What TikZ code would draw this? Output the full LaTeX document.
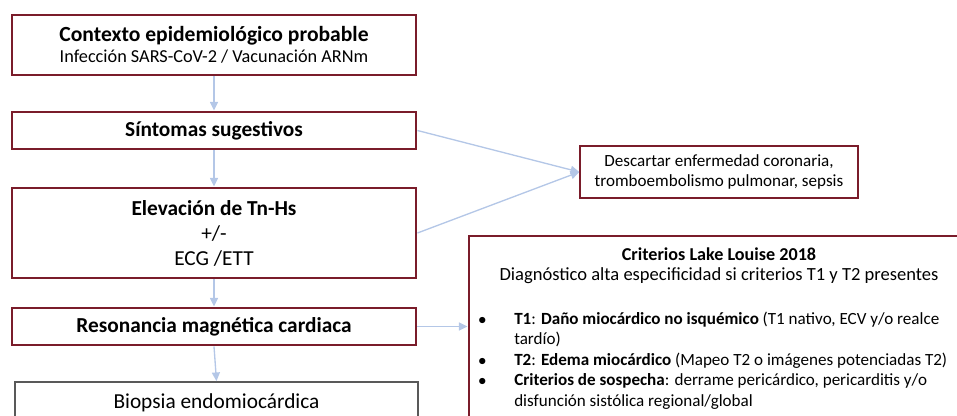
\documentclass[tikz,border=0pt]{standalone}
\usepackage{fontspec}
\setmainfont{Carlito}
\usetikzlibrary{arrows.meta}
\definecolor{granate}{RGB}{122,28,42}
\definecolor{azulclaro}{RGB}{180,199,231}
\definecolor{grisborde}{RGB}{89,89,89}
\begin{document}
\begin{tikzpicture}[x=0.75pt,y=-0.75pt,
	caja/.style={draw=granate,line width=2.2pt,minimum width=404*0.75pt,inner sep=0pt,align=center},
	cajafina/.style={draw=granate,line width=1.1pt,inner sep=0pt,align=center},
	flecha/.style={color=azulclaro,line width=1pt,-{Triangle[length=6.5pt,width=6pt]}},
	txt/.style={font=\fontsize{16pt}{18.75pt}\selectfont}]
	\useasboundingbox (0,0) rectangle (957,416);
	\clip (0,0) rectangle (957,416);

	\node[caja,minimum height=60*0.75pt] (A) at (214,45) {{\fontsize{16.2pt}{17pt}\selectfont\bfseries Contexto epidemiológico probable}\\[2.5pt]{\fontsize{13.7pt}{15pt}\selectfont Infección SARS-CoV-2 / Vacunación ARNm}};
	\node[caja,minimum height=37*0.75pt,txt] (B) at (214,130.5) {\bfseries Síntomas sugestivos};
	\node[caja,minimum height=90*0.75pt,txt] (C) at (214,233) {\bfseries Elevación de Tn-Hs\\+/-\\ECG /ETT};
	\node[caja,minimum height=37*0.75pt,txt] (D) at (214,326.5) {\bfseries Resonancia magnética cardiaca};
	\node[draw=grisborde,line width=1.3pt,minimum width=403*0.75pt,minimum height=50*0.75pt,txt] (E) at (216.5,407) {};
	\node[txt] (E1) at (216.5,403) {Biopsia endomiocárdica};

	\node[cajafina,minimum width=278*0.75pt,minimum height=52*0.75pt,font=\fontsize{12.8pt}{15pt}\selectfont] (F) at (719,172) {Descartar enfermedad coronaria,\\tromboembolismo pulmonar, sepsis};

	\node[caja,minimum width=506*0.75pt,minimum height=210*0.75pt] (G) at (722,341) {};
	\node[font=\fontsize{13.6pt}{14pt}\selectfont\bfseries] (G1) at (719,254) {Criterios Lake Louise 2018};
	\node[font=\fontsize{13.9pt}{14pt}\selectfont] (G2) at (719,276) {Diagnóstico alta especificidad si criterios T1 y T2 presentes};
	\node[anchor=north west,inner sep=0pt,font=\fontsize{12.8pt}{15.3pt}\selectfont] (G3) at (478,310) {%
		\begin{tabular}{@{}p{27pt}@{}l@{}}
		$\bullet$ & \textbf{T1}: \textbf{Daño miocárdico no isquémico} (T1 nativo, ECV y/o realce\\
		 & tardío)\\
		$\bullet$ & \textbf{T2}: \textbf{Edema miocárdico} (Mapeo T2 o imágenes potenciadas T2)\\
		$\bullet$ & \textbf{Criterios de sospecha}: derrame pericárdico, pericarditis y/o\\
		 & disfunción sistólica regional/global
		\end{tabular}};

	\path (A) edge[flecha] (B);
	\path (B) edge[flecha] (C);
	\path (C) edge[flecha] (D);
	\path (D.south) edge[flecha] (E.north);
	\path (B.east) edge[flecha] (F.west);
	\path (C.east) edge[flecha] (F.west);
	\path (D.east) edge[flecha] (G.west |- D.east);
\end{tikzpicture}
\end{document}
